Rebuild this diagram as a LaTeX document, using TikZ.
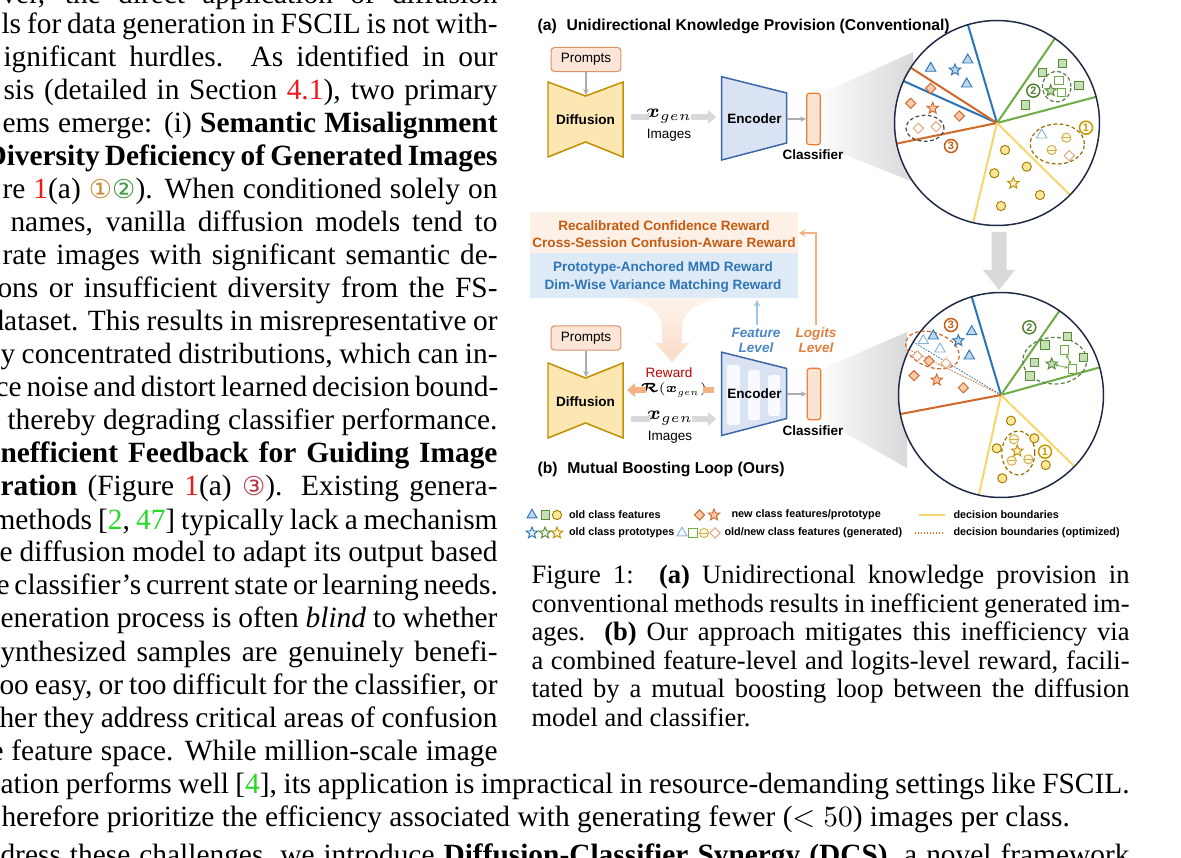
\RequirePackage{fix-cm}
\documentclass[tikz,border=0pt]{standalone}
\usepackage{amsmath,bm}
\usepackage{fontspec}
\setmainfont{Liberation Serif}
\setsansfont{Liberation Sans}
\newfontfamily\djv{DejaVu Sans}
\usetikzlibrary{shapes.geometric,calc,patterns.meta,arrows.meta}
\definecolor{oline}{HTML}{D0692A}
\definecolor{ofill}{HTML}{F8CBAD}
\definecolor{otext}{HTML}{C55A11}
\definecolor{bline}{HTML}{2E75B6}
\definecolor{bfill}{HTML}{BDD7EE}
\definecolor{gline}{HTML}{70AD47}
\definecolor{gfill}{HTML}{C5E0B4}
\definecolor{gdark}{HTML}{548235}
\definecolor{yline}{HTML}{F5D76E}
\definecolor{yfill}{HTML}{FFE699}
\definecolor{ydark}{HTML}{BF9000}
\definecolor{navy}{HTML}{1F2A44}
\definecolor{grayarr}{HTML}{D9D9D9}
\definecolor{pfill}{HTML}{FBE5D6}
\definecolor{pdraw}{HTML}{D9956A}
\definecolor{dfill}{HTML}{FCE6B2}
\definecolor{ddraw}{HTML}{BF9000}
\definecolor{efill}{HTML}{DAE3F3}
\definecolor{edraw}{HTML}{3B66A8}
\definecolor{cdraw}{HTML}{ED7D31}
\definecolor{rbox}{HTML}{FDF0E7}
\definecolor{bbox}{HTML}{DEEBF7}
\definecolor{rwd}{HTML}{C00000}
\definecolor{rarrow}{HTML}{F4B183}
\definecolor{fblue}{HTML}{4A86C5}
\definecolor{farrow}{HTML}{9DC3E6}
\definecolor{lorange}{HTML}{E0803F}
\definecolor{linkred}{rgb}{0.92,0.1,0.1}
\definecolor{linkgreen}{rgb}{0.15,0.85,0.15}
\definecolor{cone}{HTML}{C98A3D}
\definecolor{ctwo}{HTML}{3E9B3E}
\definecolor{cthree}{HTML}{B5394A}
\newlength\pxu
\setlength\pxu{0.3692pt}
\newcommand\lrd[1]{\textcolor{linkred}{#1}}
\newcommand\lgr[1]{\textcolor{linkgreen}{#1}}
\newcommand\bodyl[5]{\node[bodytx] (#1) at (#2,#3) {\makebox[#4\pxu][s]{#5}};}
\newcommand\capl[4]{\node[captx] (#1) at (531,#2) {\makebox[#3\pxu][s]{#4}};}
\newcommand\circd[2]{{\djv\fontsize{9.6}{10}\selectfont\textcolor{#1}{#2}}}
\begin{document}
\begin{tikzpicture}[x=0.3692pt,y=-0.3692pt,
  bodytx/.style={anchor=base west,inner sep=0pt,font=\fontsize{10.85}{12}\selectfont},
  captx/.style={anchor=base west,inner sep=0pt,font=\fontsize{9.8}{10.5}\selectfont},
  sfb/.style={inner sep=0pt,font=\sffamily\bfseries\fontsize{5}{6}\selectfont},
  sfr/.style={inner sep=0pt,font=\sffamily\fontsize{5}{6}\selectfont},
  ttl/.style={anchor=west,inner sep=0pt,font=\sffamily\bfseries\fontsize{5.8}{7}\selectfont},
  leg/.style={anchor=west,inner sep=0pt,font=\sffamily\bfseries\fontsize{4}{4.6}\selectfont},
  mth/.style={inner sep=0pt,font=\fontsize{7}{8}\selectfont},
  prompt/.style={draw=pdraw,fill=pfill,rounded corners=1.3pt,line width=0.4pt,minimum width=25.8pt,minimum height=8.9pt,inner sep=0pt,font=\sffamily\fontsize{5}{6}\selectfont},
  diffs/.style={draw=ddraw,fill=dfill,line width=0.55pt},
  encs/.style={draw=edraw,fill=efill,line width=0.55pt},
  clsf/.style={draw=cdraw,fill=pfill,rounded corners=1pt,line width=0.45pt,minimum width=5pt,minimum height=19pt,inner sep=0pt,postaction={pattern={Dots[distance=1.1pt,radius=0.12pt]},pattern color=cdraw!55}},
  tharr/.style={draw=gray!65,line width=0.45pt,-{Stealth[length=2.2pt,width=2pt]}},
  bigg/.style={draw=grayarr,line width=2.5pt},
  bnd/.style={line width=0.75pt},
  tri/.style={regular polygon,regular polygon sides=3,minimum size=4.4pt,inner sep=0pt,draw=bline,fill=bfill,line width=0.35pt},
  gtri/.style={tri,draw=bline!55,fill=white},
  sq/.style={rectangle,minimum size=3.1pt,inner sep=0pt,draw=gline!80!black,fill=gfill,line width=0.35pt},
  gsq/.style={sq,draw=gline,fill=white},
  circ/.style={circle,minimum size=3.4pt,inner sep=0pt,draw=ydark!85!black,fill=yfill,line width=0.35pt},
  gcirc/.style={circ,draw=ydark!70,fill=yfill!30,path picture={\draw[ydark!70,line width=0.3pt] (path picture bounding box.west) -- (path picture bounding box.east);}},
  dia/.style={diamond,minimum size=3.9pt,inner sep=0pt,draw=oline,fill=ofill,line width=0.35pt},
  gdia/.style={dia,draw=oline!60,fill=white},
  starm/.style={star,star points=5,star point ratio=2.3,minimum size=4.4pt,inner sep=0pt,line width=0.35pt},
  cnum/.style={circle,draw=#1,text=#1,line width=0.55pt,minimum size=4.8pt,inner sep=0pt,font=\sffamily\bfseries\fontsize{4}{4}\selectfont},
  dell/.style={ellipse,draw=#1,dash pattern=on 1.4pt off 0.9pt,line width=0.45pt,inner sep=0pt}
]
\useasboundingbox (0,0) rectangle (1181,858);
\clip (0,0) rectangle (1181,858);
\fill[white] (0,0) rectangle (1181,858);

% ---------------- body text, left column ----------------
\bodyl{t0}{1}{4}{496}{ver, the direct application of diffusion}
\bodyl{t1}{1}{34}{496}{ls for data generation in FSCIL is not with-}
\bodyl{t2}{3}{67}{494}{ignificant hurdles.  As identified in our}
\bodyl{t3}{3}{100}{494}{sis (detailed in Section \lrd{4.1}), two primary}
\bodyl{t4}{2}{133}{495}{ems emerge: (i) \textbf{Semantic Misalignment}}
\bodyl{t5}{-15}{166}{512}{\textbf{Diversity Deficiency of Generated Images}}
\bodyl{t6}{2}{199}{495}{re \lrd{1}(a) \circd{cone}{①}\circd{ctwo}{②}). When conditioned solely on}
\bodyl{t7}{10}{232}{487}{names, vanilla diffusion models tend to}
\bodyl{t8}{2}{265}{495}{rate images with significant semantic de-}
\bodyl{t9}{-3}{298}{500}{ons or insufficient diversity from the FS-}
\bodyl{t10}{-11}{331}{508}{dataset. This results in misrepresentative or}
\bodyl{t11}{0}{364}{497}{y concentrated distributions, which can in-}
\bodyl{t12}{-5}{397}{502}{ce noise and distort learned decision bound-}
\bodyl{t13}{7}{430}{490}{thereby degrading classifier performance.}
\bodyl{t14}{0}{463}{497}{\textbf{nefficient Feedback for Guiding Image}}
\bodyl{t15}{0}{496}{497}{\textbf{ration} (Figure \lrd{1}(a) \circd{cthree}{③}). Existing genera-}
\bodyl{t16}{-8}{529}{505}{methods [\lgr{2}, \lgr{47}] typically lack a mechanism}
\bodyl{t17}{-1}{562}{498}{e diffusion model to adapt its output based}
\bodyl{t18}{-4}{595}{501}{e classifier’s current state or learning needs.}
\bodyl{t19}{0}{628}{497}{eneration process is often \textit{blind} to whether}
\bodyl{t20}{0}{661}{497}{ynthesized samples are genuinely benefi-}
\bodyl{t21}{-1}{694}{498}{oo easy, or too difficult for the classifier, or}
\bodyl{t22}{-1}{727}{498}{her they address critical areas of confusion}
\bodyl{t23}{-10}{760}{507}{e feature space. While million-scale image}
\bodyl{t24}{0}{793}{1129}{ation performs well [\lgr{4}], its application is impractical in resource-demanding settings like FSCIL.}
\node[bodytx] (t25) at (1,826) {herefore prioritize the efficiency associated with generating fewer ($<50$) images per class.};
\bodyl{t26}{0}{864}{1129}{dress these challenges, we introduce \textbf{Diffusion-Classifier Synergy (DCS)}, a novel framework}

% ---------------- caption ----------------
\capl{c1}{584}{598}{Figure 1:\hspace{2pt} \textbf{(a)} Unidirectional knowledge provision in}
\capl{c2}{612.5}{598}{conventional methods results in inefficient generated im-}
\capl{c3}{641}{598}{ages.  \textbf{(b)} Our approach mitigates this inefficiency via}
\capl{c4}{669.5}{598}{a combined feature-level and logits-level reward, facili-}
\capl{c5}{698}{598}{tated by a mutual boosting loop between the diffusion}
\node[captx] (c6) at (531,726.5) {model and classifier.};

% ---------------- panel (a) ----------------
\node[ttl] (ta) at (537,26) {(a)\hspace{2pt} Unidirectional Knowledge Provision (Conventional)};
\node[prompt] (pa) at (586,59.5) {Prompts};
\draw[diffs] (548,82) -- (585.5,96) -- (623,82) -- (623,157) -- (585.5,142) -- (548,157) -- cycle;
\coordinate (datop) at (586,95);
\node[sfb] (da) at (585.5,119.5) {Diffusion};
\draw[tharr] (pa.south) -- (datop);
\node[mth] (xa) at (669,116) {$\bm{x}_{gen}$};
\node[sfr] (ia) at (669,135) {Images};
\coordinate (ga1) at (631,117); \coordinate (ga2) at (649,117);
\coordinate (ga3) at (691,117); \coordinate (ga4) at (716,117);
\draw[bigg] (ga1) -- (ga2);
\draw[bigg,-{Triangle[length=3pt,width=5pt]}] (ga3) -- (ga4);
\draw[encs] (721.7,76.7) -- (786.7,93) -- (786.7,143) -- (721.7,160) -- cycle;
\node[sfb] (ea) at (754.5,119) {Encoder};
\shade[left color=gray!3,right color=gray!30] (821,94) -- (913,52) -- (913,182) -- (821,145) -- cycle;
\coordinate (eaout) at (786.7,119);
\node[clsf] (ca) at (813.5,119) {};
\draw[tharr] (eaout) -- (ca.west);
\node[sfb] (cla) at (813,155) {Classifier};

\coordinate (Ca) at (997,123);
\fill[white] (Ca) circle[radius=102.5];
\draw[bline,bnd] (Ca) -- ($(Ca)!37.85pt!(968,25)$);
\draw[bline,bnd] (Ca) -- ($(Ca)!37.85pt!(905,81.7)$);
\draw[oline,bnd] (Ca) -- ($(Ca)!37.85pt!(911.7,68.3)$);
\draw[oline,bnd] (Ca) -- ($(Ca)!37.85pt!(898.3,143.3)$);
\draw[gline,bnd] (Ca) -- ($(Ca)!37.85pt!(1055,38.3)$);
\draw[gline,bnd] (Ca) -- ($(Ca)!37.85pt!(1096.7,96.7)$);
\draw[yline,bnd] (Ca) -- ($(Ca)!37.85pt!(1070,195)$);
\draw[yline,bnd] (Ca) -- ($(Ca)!37.85pt!(973.3,221.7)$);
\draw[navy,line width=0.55pt] (Ca) circle[radius=102.5];

\node[dell=gray!60!black] (ea3) at (925,128.3) [minimum width=14pt,minimum height=9.6pt] {};
\node[dell=gdark!80!gray] (ea2) at (1056.7,86.7) [minimum width=10.5pt,minimum height=11.2pt] {};
\node[dell=ydark!80!black] (ea1) at (1057.3,144) [minimum width=20pt,minimum height=14.8pt] {};

\foreach \p [count=\i] in {(930.7,68.3),(967.7,60),(966.7,84)} \node[tri] (atri\i) at \p {};
\node[starm,draw=bline,fill=bfill] (astb) at (955,70) {};
\foreach \p [count=\i] in {(930.7,88.3),(910.7,103.3),(959.3,116)} \node[dia] (adia\i) at \p {};
\node[starm,draw=oline,fill=ofill] (asto) at (932.7,108.3) {};
\foreach \p [count=\i] in {(918.3,128.3),(936,126.7)} \node[gdia] (agdia\i) at \p {};
\foreach \p [count=\i] in {(1042.3,72.3),(1062.7,63.3),(1079,85.7),(1025.7,105)} \node[sq] (asq\i) at \p {};
\node[starm,draw=gline!80!black,fill=gfill] (astg) at (1050.7,90.7) {};
\foreach \p [count=\i] in {(1059,80.7),(1061.7,92.3)} \node[gsq] (agsq\i) at \p {};
\foreach \p [count=\i] in {(1005,150),(1026.7,166.7),(994.3,173.3),(1040,195),(1001,206)} \node[circ] (acir\i) at \p {};
\node[starm,draw=ydark,fill=yfill!50] (asty) at (1013.3,183.3) {};
\node[gtri] (agtri1) at (1041.7,135) {};
\node[gcirc] (agcir1) at (1066.3,137.7) {};
\node[gcirc] (agcir2) at (1051.7,150) {};
\node[gdia] (agdia3) at (1069.3,155.7) {};
\node[cnum=ydark!90!yellow] (n1a) at (1086,127.7) {1};
\node[cnum=gdark] (n2a) at (1033.3,90.7) {2};
\node[cnum=otext] (n3a) at (951,146) {3};

% big gray arrow between circles
\fill[grayarr] (991.5,232) -- (1006.5,232) -- (1006.5,270) -- (1015,270) -- (999,290) -- (983,270) -- (991.5,270) -- cycle;

% ---------------- panel (b) ----------------
\node[fill=rbox,minimum width=98.9pt,minimum height=15.1pt,inner sep=0pt] (ob) at (664,232.5) {};
\node[inner sep=0pt,align=center,text=otext,font=\sffamily\bfseries\fontsize{5}{6.3}\selectfont] (obt) at (664,234) {Recalibrated Confidence Reward\\Cross-Session Confusion-Aware Reward};
\node[fill=bbox,minimum width=98.9pt,minimum height=16.6pt,inner sep=0pt] (bb) at (664,275.5) {};
\node[inner sep=0pt,align=center,text=bline,font=\sffamily\bfseries\fontsize{5}{6.6}\selectfont] (bbt) at (663,277) {Prototype-Anchored MMD Reward\\Dim-Wise Variance Matching Reward};
\shade[top color=rbox,bottom color=rarrow!55,opacity=0.8] (628,298.5) .. controls (652,305) and (662,314) .. (662,328) -- (662,343) -- (655,343) -- (672,362) -- (689,343) -- (682,343) -- (682,328) .. controls (682,314) and (692,305) .. (716,298.5) -- cycle;

\node[prompt] (pb) at (586,338) {Prompts};
\draw[diffs] (548,363) -- (585.5,378) -- (623,363) -- (623,438) -- (585.5,423) -- (548,438) -- cycle;
\coordinate (dbtop) at (586,377);
\node[sfb] (db) at (585.5,402) {Diffusion};
\draw[tharr] (pb.south) -- (dbtop);

\node[sfr,text=rwd] (rw) at (669,373) {Reward};
\node[inner sep=0pt,font=\fontsize{4.9}{6}\selectfont] (rx) at (674,390) {$\bm{\mathcal{R}}(\bm{x}_{gen})$};
\coordinate (ra1) at (714,390); \coordinate (ra2) at (703,390);
\coordinate (ra3) at (646,390); \coordinate (ra4) at (627,390);
\draw[draw=rarrow,line width=2.5pt] (ra1) -- (ra2);
\draw[draw=rarrow,line width=2.5pt,-{Triangle[length=3pt,width=5pt]}] (ra3) -- (ra4);

\node[mth] (xb) at (670,418) {$\bm{x}_{gen}$};
\node[sfr] (ib) at (670,437) {Images};
\coordinate (gb1) at (631,419); \coordinate (gb2) at (650,419);
\coordinate (gb3) at (692,419); \coordinate (gb4) at (716,419);
\draw[bigg] (gb1) -- (gb2);
\draw[bigg,-{Triangle[length=3pt,width=5pt]}] (gb3) -- (gb4);

\draw[encs] (721.7,352.2) -- (786.7,368.5) -- (786.7,418.5) -- (721.7,435.5) -- cycle;
\fill[white,opacity=0.85,rounded corners=1pt] (727,365) rectangle (740,425);
\fill[white,opacity=0.85,rounded corners=1pt] (748,370) rectangle (760,420);
\fill[white,opacity=0.85,rounded corners=1pt] (768,375) rectangle (780,416);
\node[sfb] (eb) at (754.5,394) {Encoder};
\shade[left color=gray!3,right color=gray!30] (822,369) -- (907,332) -- (907,468) -- (822,420) -- cycle;
\coordinate (ebout) at (786.7,394);
\node[clsf] (cb) at (814,394) {};
\draw[tharr] (ebout) -- (cb.west);
\node[sfb] (clb) at (813,431) {Classifier};

\node[inner sep=0pt,align=center,text=fblue,font=\sffamily\bfseries\itshape\fontsize{5}{5.6}\selectfont] (fl) at (756,340.5) {Feature\\Level};
\node[inner sep=0pt,align=center,text=lorange,font=\sffamily\bfseries\itshape\fontsize{5}{5.6}\selectfont] (ll) at (816,340.5) {Logits\\Level};
\coordinate (flt) at (757,300);
\draw[farrow,line width=0.6pt,-{Stealth[length=2.4pt,width=2.4pt]}] ([yshift=1pt]fl.north -| flt) -- (flt);
\coordinate (llc) at (816,233); \coordinate (llt) at (799,233);
\draw[rarrow,line width=0.65pt,-{Stealth[length=2.4pt,width=2.6pt]}] ([yshift=1pt]ll.north) -- (llc) -- (llt);

\coordinate (Cb) at (1001,395);
\fill[white] (Cb) circle[radius=102.5];
\draw[bline,bnd] (Cb) -- ($(Cb)!37.85pt!(971.7,296.7)$);
\draw[gline,bnd] (Cb) -- ($(Cb)!37.85pt!(1059.3,311)$);
\draw[gline,bnd] (Cb) -- ($(Cb)!37.85pt!(1100,367.3)$);
\draw[yline,bnd] (Cb) -- ($(Cb)!37.85pt!(1072.3,464.3)$);
\draw[yline,bnd] (Cb) -- ($(Cb)!37.85pt!(979.3,492.7)$);
\draw[oline,bnd] (Cb) -- ($(Cb)!37.85pt!(900.7,414)$);
\draw[bline,line width=0.3pt,dash pattern=on 0.6pt off 0.5pt] (Cb) -- ($(Cb)!37.85pt!(905,337)$);
\draw[oline,line width=0.3pt,dash pattern=on 0.6pt off 0.5pt] (Cb) -- ($(Cb)!37.85pt!(906,348)$);
\draw[navy,line width=0.55pt] (Cb) circle[radius=102.5];

\node[dell=oline,rotate=-20] (eb3) at (932.5,350) [minimum width=20.5pt,minimum height=12.8pt] {};
\node[dell=gdark!80!gray] (eb2) at (1054.7,360.7) [minimum width=23.6pt,minimum height=17.2pt] {};
\node[dell=ydark!80!black] (eb1) at (1018.3,453) [minimum width=12.2pt,minimum height=16.2pt] {};

\foreach \p [count=\i] in {(933.3,336),(971.7,331.7),(969.3,356)} \node[tri] (btri\i) at \p {};
\node[starm,draw=bline,fill=bfill] (bstb) at (958.3,340.7) {};
\foreach \p [count=\i] in {(923.3,340.7),(940,349)} \node[gtri] (bgtri\i) at \p {};
\foreach \p [count=\i] in {(917.3,356),(946,363.3)} \node[gdia] (bgdia\i) at \p {};
\foreach \p [count=\i] in {(929,361),(914,375.7),(963.3,387.7)} \node[dia] (bdia\i) at \p {};
\node[starm,draw=oline,fill=ofill] (bsto) at (936.7,380) {};
\foreach \p [count=\i] in {(1067.7,336.7),(1045,345),(1034.3,362.7),(1030,376),(1083.3,357.3)} \node[sq] (bsq\i) at \p {};
\node[gsq] (bgsq1) at (1064.3,350) {};
\node[gsq] (bgsq2) at (1072.7,369) {};
\node[starm,draw=gline!80!black,fill=gfill] (bstg) at (1051.7,364) {};
\draw[gline,line width=0.3pt,{Stealth[length=1.2pt,width=1.2pt]}-{Stealth[length=1.2pt,width=1.2pt]}] (bstg) -- (bgsq2);
\draw[gline,line width=0.3pt,{Stealth[length=1.2pt,width=1.2pt]}-{Stealth[length=1.2pt,width=1.2pt]}] (bgsq1) -- (bgsq2);
\foreach \p [count=\i] in {(1011,420.7),(1034.3,438.3),(996.7,448.3),(1045.7,465),(1002.3,478.3)} \node[circ] (bcir\i) at \p {};
\foreach \p [count=\i] in {(1014,439.3),(1011.7,460.7),(1028.3,459.3)} \node[gcirc] (bgcir\i) at \p {};
\node[starm,draw=ydark,fill=yfill!50] (bsty) at (1017.3,451) {};
\node[cnum=ydark!90!yellow] (n1b) at (1045,451.7) {1};
\node[cnum=gdark] (n2b) at (1029.3,327.3) {2};
\node[cnum=otext] (n3b) at (951,325) {3};

\node[ttl] (tb) at (537,469) {(b)\hspace{2pt} Mutual Boosting Loop (Ours)};

% ---------------- legend ----------------
\node[tri,minimum size=4.2pt] (lg1) at (532,515) {};
\node[sq] (lg2) at (545.5,515) {};
\node[circ] (lg3) at (557,515) {};
\node[leg] (lt1) at (568.5,515) {old class features};
\node[dia] (lg4) at (699.5,515) {};
\node[starm,draw=oline,fill=ofill] (lg5) at (714,515) {};
\node[leg] (lt2) at (731,515) {new class features/prototype};
\coordinate (ly1) at (919,515); \coordinate (ly2) at (944.5,515);
\draw[yline,line width=0.75pt] (ly1) -- (ly2);
\node[leg] (lt3) at (953,515) {decision boundaries};
\node[starm,draw=bline,fill=bfill!40] (lg6) at (532,533) {};
\node[starm,draw=gline!80!black,fill=gfill!40] (lg7) at (545,533) {};
\node[starm,draw=ydark,fill=yfill!40] (lg8) at (557,533) {};
\node[leg] (lt4) at (568.5,533) {old class prototypes};
\node[gtri,minimum size=4.2pt] (lg9) at (682,533) {};
\node[gsq] (lg10) at (693,533) {};
\node[gcirc] (lg11) at (704,533) {};
\node[gdia] (lg12) at (715,533) {};
\node[leg] (lt5) at (724,533) {old/new class features (generated)};
\coordinate (lo1) at (915,533); \coordinate (lo2) at (944.5,533);
\draw[oline,line width=0.5pt,dash pattern=on 0.5pt off 0.6pt] (lo1) -- (lo2);
\node[leg] (lt6) at (953,533) {decision boundaries (optimized)};
\end{tikzpicture}
\end{document}
